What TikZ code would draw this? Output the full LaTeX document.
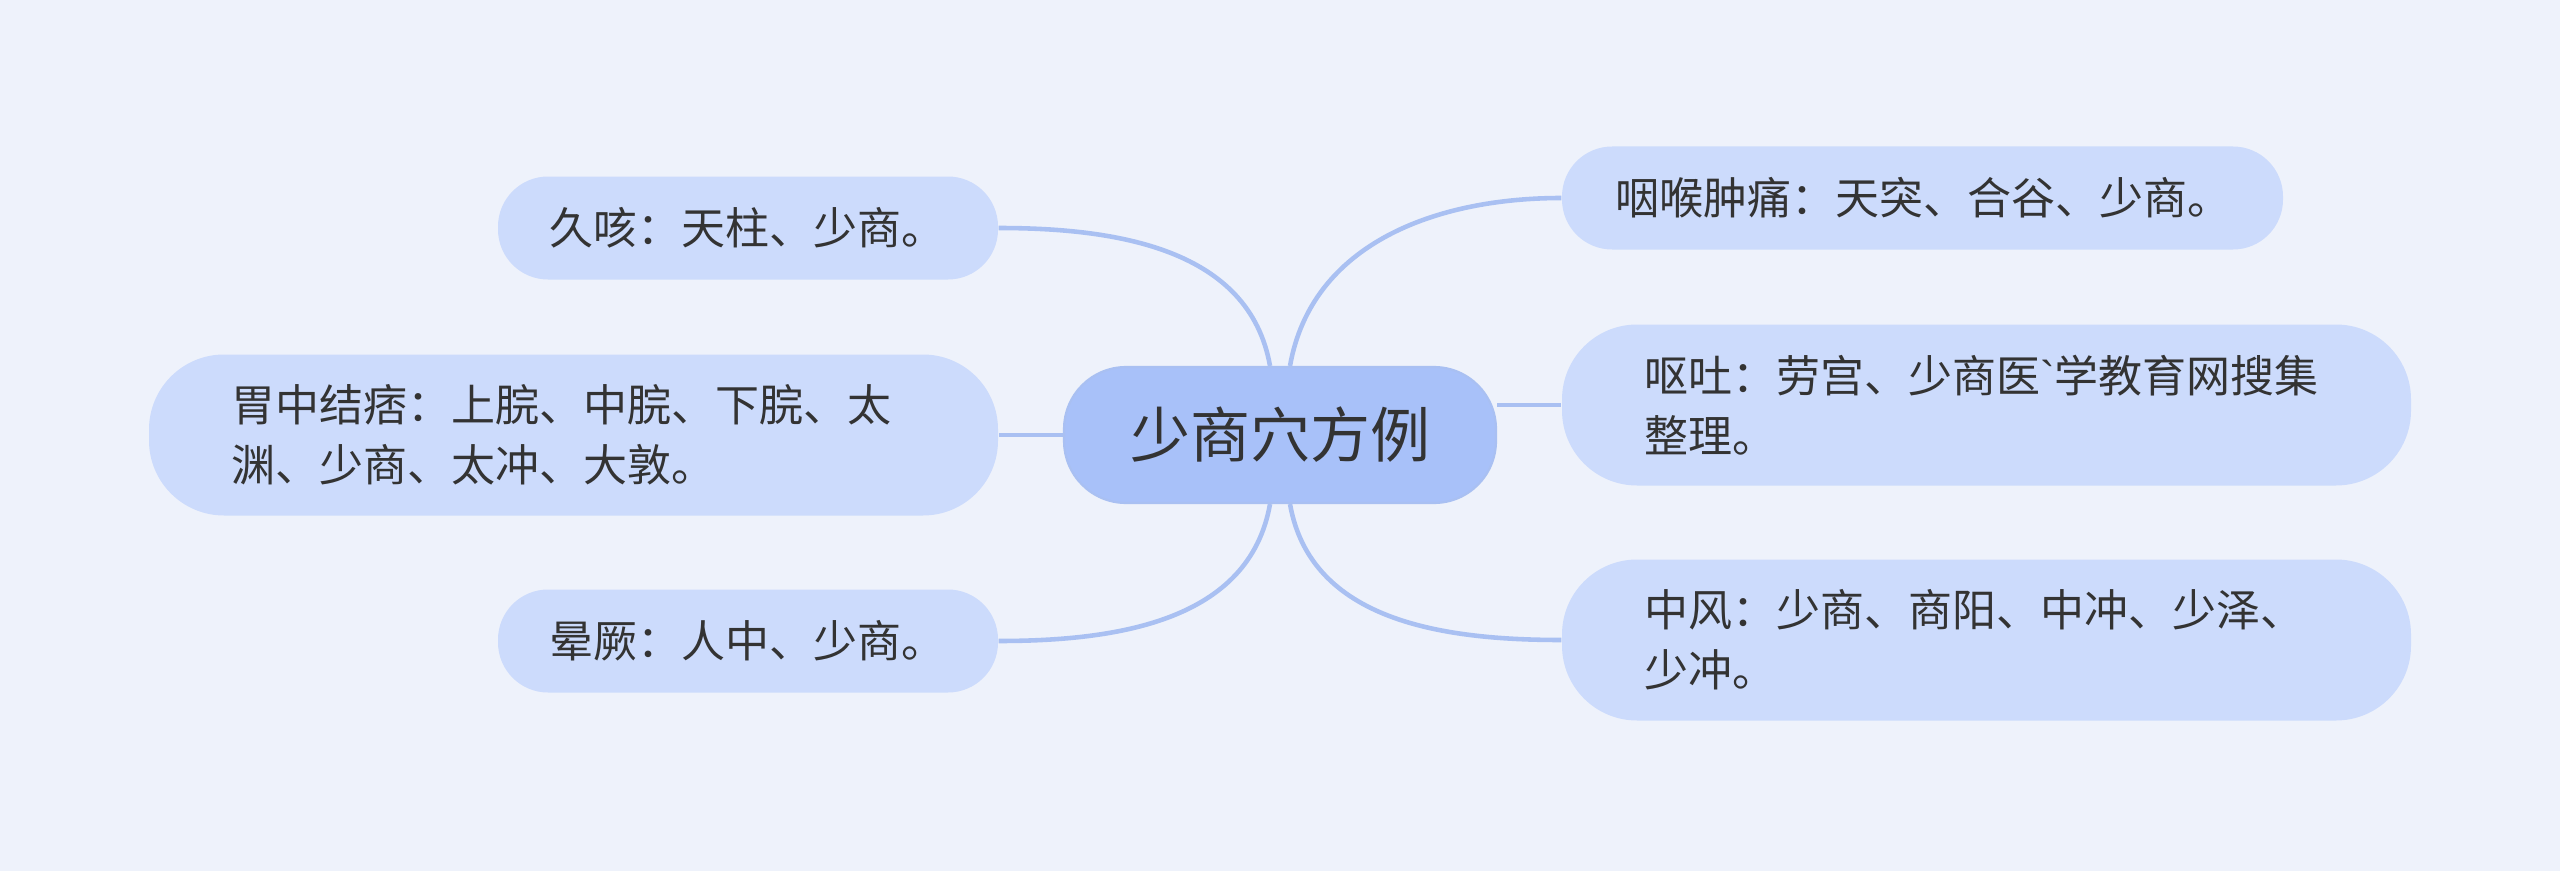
\documentclass[tikz,border=0pt]{standalone}
\usepackage{fontspec}
\setmainfont{Noto Sans CJK SC}
\newfontfamily\plainfont{Liberation Sans}
\usetikzlibrary{positioning,calc}

\definecolor{bgcol}{HTML}{EEF2FB}
\definecolor{leafcol}{HTML}{CCDBFC}
\definecolor{rootcol}{HTML}{A8C1F9}
\definecolor{linecol}{HTML}{A9C0F2}
\definecolor{txtcol}{HTML}{333333}

\begin{document}
\begin{tikzpicture}[
    root/.style={rectangle, rounded corners=0.62cm, fill=rootcol, draw=linecol, line width=0.6pt, minimum width=4.32cm, minimum height=1.36cm, align=center, text=txtcol, font=\fontsize{0.6cm}{0.72cm}\selectfont},
    leaf/.style={rectangle, rounded corners=0.5cm, fill=leafcol, minimum height=1.03cm, inner xsep=0.51cm, text width=3.98cm, align=left, text=txtcol, font=\fontsize{0.44cm}{0.6cm}\selectfont},
    bigleaf/.style={leaf, rounded corners=0.75cm, minimum height=1.61cm, inner xsep=0.82cm, text width=6.85cm},
    link/.style={draw=linecol, line width=1.3pt},
]

% Background
\fill[bgcol] (0,0) rectangle (25.6,8.71);

% ====== Root ======
\node[root] (root) at (12.80, 4.36) {少商穴方例};

% ====== Left ======
\node[leaf] (cough) at (7.48, 6.43) {久咳：天柱、少商。};
\node[bigleaf] (stomach) at (5.735, 4.36) {胃中结痞：上脘、中脘、下脘、太\\渊、少商、太冲、大敦。};
\node[leaf] (faint) at (7.48, 2.30) {晕厥：人中、少商。};

% ====== Right ======
\node[leaf, text width=6.15cm, inner xsep=0.53cm] (throat) at (19.225, 6.73) {咽喉肿痛：天突、合谷、少商。};
\node[bigleaf] (vomit) at (19.865, 4.66) {呕吐：劳宫、少商医{\plainfont`}学教育网搜集\\整理。};
\node[bigleaf] (stroke) at (19.865, 2.31) {中风：少商、商阳、中冲、少泽、\\少冲。};

% ====== Links ======
\draw[link] ([xshift=-1mm]root.north) to[out=100, in=0] (cough.east);
\draw[link] (root.west) -- (stomach.east);
\draw[link] ([xshift=-1mm]root.south) to[out=-100, in=0] (faint.east);
\draw[link] ([xshift=1mm]root.north) to[out=80, in=180] (throat.west);
\draw[link] (root.east |- vomit.west) -- (vomit.west);
\draw[link] ([xshift=1mm]root.south) to[out=-80, in=180] (stroke.west);

\end{tikzpicture}
\end{document}
